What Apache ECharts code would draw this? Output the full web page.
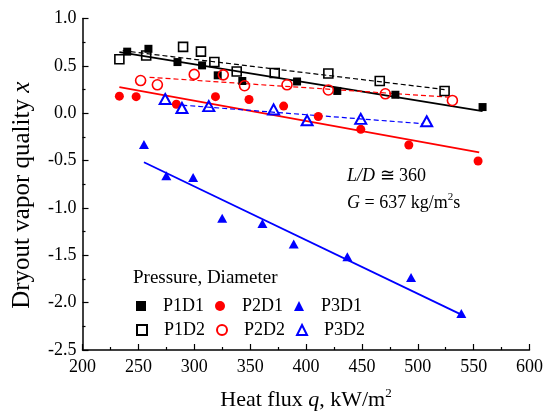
<!DOCTYPE html>
<html>
<head>
<meta charset="utf-8">
<script src="https://cdn.jsdelivr.net/npm/echarts@6/dist/echarts.min.js"></script>
<style>
  html, body { margin: 0; padding: 0; background: #fff; }
  #chart { width: 546px; height: 416px; }
</style>
</head>
<body>
<div id="chart"></div>
<script>
// Heat flux q (kW/m2) and dryout vapor quality x for each pressure/diameter case
const qP1D1 = [240, 259, 285, 307, 321, 343, 392, 428, 480, 558];
const xP1D1 = [0.65, 0.68, 0.54, 0.505, 0.40, 0.34, 0.335, 0.235, 0.195, 0.065];

const qP1D2 = [233, 257, 290, 306, 318, 338, 372, 420, 466, 524];
const xP1D2 = [0.57, 0.61, 0.70, 0.65, 0.54, 0.44, 0.425, 0.42, 0.34, 0.235];

const qP2D1 = [233, 248, 284, 319, 349, 380, 411, 449, 492, 554];
const xP2D1 = [0.18, 0.175, 0.095, 0.175, 0.145, 0.075, -0.035, -0.17, -0.335, -0.505];

const qP2D2 = [252, 267, 300, 326, 345, 383, 420, 471, 531];
const xP2D2 = [0.345, 0.30, 0.41, 0.405, 0.29, 0.30, 0.245, 0.205, 0.135];

const qP3D1 = [255, 275, 299, 325, 361, 389, 437, 494, 539];
const xP3D1 = [-0.33, -0.66, -0.68, -1.11, -1.165, -1.38, -1.515, -1.735, -2.115];

const qP3D2 = [274, 289, 313, 371, 401, 449, 508];
const xP3D2 = [0.15, 0.055, 0.075, 0.04, -0.075, -0.06, -0.085];

// Linear trend lines: [q, x] end points
const fitP1D1 = [[233, 0.645], [558, 0.023]];
const fitP1D2 = [[236, 0.66], [524, 0.25]];
const fitP2D1 = [[233, 0.275], [555, -0.413]];
const fitP2D2 = [[260, 0.379], [527, 0.17]];
const fitP3D1 = [[255, -0.518], [539, -2.126]];
const fitP3D2 = [[275, 0.098], [504, -0.11]];

// Axis ranges and ticks
const xRange = [200, 600], xStep = 50;
const yRange = [-2.5, 1.0], yStep = 0.5;

const legendRow1 = ['P1D1', 'P2D1', 'P3D1'];
const legendRow2 = ['P1D2', 'P2D2', 'P3D2'];

const F = "'Liberation Serif', 'Times New Roman', serif";
const BLACK = '#000000', RED = '#ff0000', BLUE = '#0000ff';
const CLEAR = 'rgba(255,255,255,0)';

const pairs = (qs, xs) => qs.map((q, i) => [q, xs[i]]);

function scatter(name, qs, xs, symbol, size, fill, stroke, bw) {
  return {
    name, type: 'scatter', data: pairs(qs, xs), symbol, symbolSize: size, z: 5,
    itemStyle: { color: fill, borderColor: stroke, borderWidth: bw, opacity: 1 }
  };
}
function fit(name, pts, color, dashed) {
  return {
    name, type: 'line', data: pts, symbol: 'none', z: 3, silent: true,
    lineStyle: { color, width: dashed ? 1.2 : 1.8, type: dashed ? [5, 3] : 'solid' }
  };
}

const axisCommon = {
  type: 'value',
  axisLine: { show: true, onZero: false, lineStyle: { color: BLACK, width: 1.5 } },
  axisTick: { show: true, inside: true, length: 6, lineStyle: { color: BLACK, width: 1.2 } },
  minorTick: { show: true, splitNumber: 2, length: 3, lineStyle: { color: BLACK, width: 1.2 } },
  splitLine: { show: false },
  minorSplitLine: { show: false }
};

const legendCommon = {
  left: 131, itemWidth: 10, itemHeight: 10, itemGap: 11,
  selectedMode: false,
  textStyle: { color: BLACK, fontFamily: F, fontSize: 18, padding: [0, 0, 0, 12] }
};

const chart = echarts.init(document.getElementById('chart'), null, { renderer: 'canvas' });
chart.setOption({
  animation: false,
  backgroundColor: '#fff',
  grid: { left: 82.5, top: 18.5, width: 448, height: 334, containLabel: false },
  xAxis: Object.assign({}, axisCommon, {
    min: xRange[0], max: xRange[1], interval: xStep,
    axisLabel: { color: BLACK, fontFamily: F, fontSize: 18, margin: 8 },
    name: '{t|Heat flux }{i|q}{t|, kW/m}{s|2}',
    nameLocation: 'middle', nameGap: 37,
    nameTextStyle: {
      color: BLACK, fontFamily: F, fontSize: 22,
      rich: {
        t: { color: BLACK, fontFamily: F, fontSize: 22, lineHeight: 26 },
        i: { color: BLACK, fontFamily: F, fontSize: 22, fontStyle: 'italic', lineHeight: 26 },
        s: { color: BLACK, fontFamily: F, fontSize: 13, lineHeight: 13, verticalAlign: 'top' }
      }
    }
  }),
  yAxis: Object.assign({}, axisCommon, {
    min: yRange[0], max: yRange[1], interval: yStep,
    axisLabel: { color: BLACK, fontFamily: F, fontSize: 18, margin: 6,
      formatter: v => v.toFixed(1) },
    name: '{t|Dryout vapor quality }{i|x}',
    nameLocation: 'middle', nameGap: 48, nameRotate: 90,
    nameTextStyle: {
      color: BLACK, fontFamily: F, fontSize: 25, padding: [0, 22, 0, 0],
      rich: {
        t: { color: BLACK, fontFamily: F, fontSize: 25 },
        i: { color: BLACK, fontFamily: F, fontSize: 25, fontStyle: 'italic' }
      }
    }
  }),
  legend: [
    Object.assign({}, legendCommon, { top: 292, data: legendRow1 }),
    Object.assign({}, legendCommon, { top: 316, data: legendRow2 })
  ],
  graphic: [
    {
      type: 'text', left: 133, top: 269, silent: true,
      style: { text: 'Pressure, Diameter', fill: BLACK, font: '19px ' + F }
    },
    {
      type: 'text', left: 347, top: 167, silent: true,
      style: {
        text: '{i|L/D} ≅ 360', fill: BLACK, font: '18px ' + F,
        rich: { i: { fill: BLACK, fontFamily: F, fontSize: 18, fontStyle: 'italic' } }
      }
    },
    {
      type: 'text', left: 347, top: 192, silent: true,
      style: {
        text: '{i|G}{t| = 637 kg/m}{s|2}{t|s}', fill: BLACK, font: '18px ' + F,
        rich: {
          i: { fill: BLACK, fontFamily: F, fontSize: 18, fontStyle: 'italic', lineHeight: 22 },
          t: { fill: BLACK, fontFamily: F, fontSize: 18, lineHeight: 22 },
          s: { fill: BLACK, fontFamily: F, fontSize: 11, lineHeight: 11, verticalAlign: 'top' }
        }
      }
    }
  ],
  series: [
    fit('fit P1D1', fitP1D1, BLACK, false),
    fit('fit P1D2', fitP1D2, BLACK, true),
    fit('fit P2D1', fitP2D1, RED, false),
    fit('fit P2D2', fitP2D2, RED, true),
    fit('fit P3D1', fitP3D1, BLUE, false),
    fit('fit P3D2', fitP3D2, BLUE, true),
    scatter('P1D1', qP1D1, xP1D1, 'rect', 8, BLACK, BLACK, 0),
    scatter('P1D2', qP1D2, xP1D2, 'rect', 9, CLEAR, BLACK, 1.6),
    scatter('P2D1', qP2D1, xP2D1, 'circle', 9, RED, RED, 0),
    scatter('P2D2', qP2D2, xP2D2, 'circle', 10, CLEAR, RED, 1.6),
    scatter('P3D1', qP3D1, xP3D1, 'triangle', [10, 9], BLUE, BLUE, 0),
    scatter('P3D2', qP3D2, xP3D2, 'triangle', [11, 10], CLEAR, BLUE, 2)
  ]
});
</script>
</body>
</html>
